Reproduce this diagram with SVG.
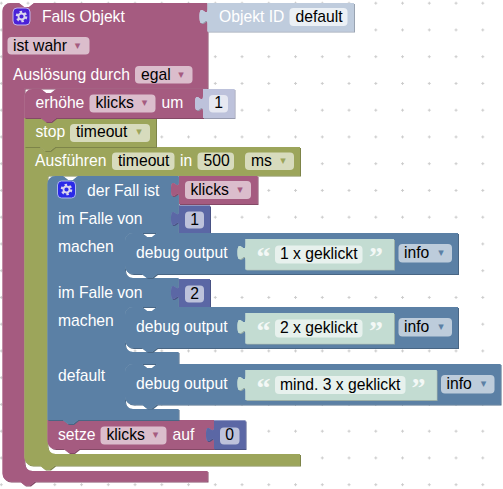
<svg xmlns="http://www.w3.org/2000/svg" width="503" height="489" viewBox="0 0 503 489">
<style>
text{font-family:"Liberation Sans",Arial,sans-serif;font-size:15.7px;white-space:pre}
.l{fill:#fff}
.t{fill:#000}
.c{text-anchor:middle}
.q{font-family:"Liberation Serif",serif;font-weight:bold;font-size:28px;fill:#f3f8f6}
.ar{font-family:"DejaVu Sans",sans-serif;font-size:11px;text-anchor:middle}
.b{filter:url(#edge)}
.pink{fill:#a55b80}.ol{fill:#9ca55b}.bl{fill:#5b80a5}.nu{fill:#5b67a5}.sh{fill:#bdc2db}.ob{fill:#bfccdd}.gr{fill:#c3dcd2}
.fp{fill:#dbbdcc}.fo{fill:#d7dbbd}.fb{fill:#bdccdb}.fn{fill:#bdc2db}.fw{fill:#e6e8f1}.fg{fill:#e7f1ed}.fi{fill:#ebf0f5}
.gear{fill:none;stroke:#d9d5ee}
</style>
<defs>
<pattern id="grid" x="-0.2" y="1.7" width="26.75" height="26.75" patternUnits="userSpaceOnUse">
<path d="M0,1.5H3M1.5,0V3" stroke="#ccc" stroke-width="1" fill="none"/>
</pattern>
<filter id="edge" x="-5%" y="-5%" width="110%" height="110%" color-interpolation-filters="sRGB">
<feOffset in="SourceGraphic" dx="0.8" dy="0.8" result="o1"/>
<feColorMatrix in="o1" type="matrix" values=".8 0 0 0 0 0 .8 0 0 0 0 0 .8 0 0 0 0 0 1 0" result="dark"/>
<feOffset in="SourceGraphic" dx="-0.5" dy="-0.5" result="o2"/>
<feColorMatrix in="o2" type="matrix" values=".7 0 0 0 .3 0 .7 0 0 .3 0 0 .7 0 .3 0 0 0 1 0" result="light"/>
<feMerge><feMergeNode in="dark"/><feMergeNode in="light"/><feMergeNode in="SourceGraphic"/></feMerge>
</filter>
<g id="gearA"><circle r="4.6" class="gear" stroke-width="2.4" stroke-dasharray="2.4 2.42"/><circle r="3" class="gear" stroke-width="1.8"/></g>
</defs>
<rect width="503" height="489" fill="#fff"/>
<rect width="503" height="489" fill="url(#grid)"/>

<g id="connectors"/>

<g id="falls-objekt">
<path class="b pink" d="M2.5,11a8,8 0 0 1 8,-8H19l5,4 5,0 5,-4H207.5V88.5H24.5V463a8,8 0 0 0 8,8H207.5V481.5H35l-5,4 -5,0 -5,-4H10.5a8,8 0 0 1 -8,-8Z"/>
<rect x="13" y="8" width="17" height="17" rx="4" fill="#4a22d8" stroke="#c4b6ea"/>
<use href="#gearA" x="21.5" y="16.5"/>
<text class="l" x="42" y="21.5">Falls Objekt</text>
<rect class="fp" x="7.5" y="37" width="82" height="17.5" rx="4"/>
<text class="t" x="13" y="51">ist wahr</text><text class="ar" x="77.5" y="49" fill="#a55b80">▾</text>
<text class="l" x="13" y="80">Auslösung durch</text>
<rect class="fp" x="135" y="66" width="57.5" height="17.5" rx="4"/>
<text class="t" x="141" y="80">egal</text><text class="ar" x="181" y="78" fill="#a55b80">▾</text>
</g>

<g id="objekt-id">
<path class="b ob" d="M354,3V31.5H207.5V24c0,-10 -8,8 -8,-7.5s8,2.5 8,-7.5V3Z"/>
<text class="l" x="219" y="21.5">Objekt ID</text>
<rect class="fi" x="289.5" y="8" width="58" height="18" rx="4"/>
<text class="t" x="295.5" y="21.5">default</text>
</g>

<g id="ausfuehren">
<path class="b ol" d="M24.5,147H40l5,4 5,0 5,-4H300V175.5H47.5V446a8,8 0 0 0 8,8H300V465.5H55l-5,4 -5,0 -5,-4H32.5a8,8 0 0 1 -8,-8Z"/>
<text class="l" x="35" y="166">Ausführen</text>
<rect class="fo" x="112" y="152.5" width="62.5" height="17.5" rx="4"/>
<text class="t" x="118" y="166">timeout</text>
<text class="l" x="180" y="166">in</text>
<rect class="fo" x="197.5" y="152.5" width="36.5" height="17.5" rx="4"/>
<text class="t" x="203.5" y="166">500</text>
<rect class="fo" x="245" y="152.5" width="49" height="17.5" rx="4"/>
<text class="t" x="251" y="166">ms</text><text class="ar" x="283" y="164" fill="#9ca55b">▾</text>
</g>

<g id="stop">
<path class="b ol" d="M24.5,118H156V147H55l-5,4 -5,0 -5,-4H24.5Z"/>
<text class="l" x="35.5" y="137">stop</text>
<rect class="fo" x="70" y="124" width="80" height="18" rx="4"/>
<text class="t" x="76" y="137">timeout</text><text class="ar" x="139" y="135" fill="#9ca55b">▾</text>
</g>

<g id="erhoehe">
<path class="b pink" d="M24.5,97a8,8 0 0 1 8,-8H41l5,4 5,0 5,-4H203V118H56l-5,4 -5,0 -5,-4H24.5Z"/>
<text class="l" x="35.5" y="108">erhöhe</text>
<rect class="fp" x="89.5" y="94.5" width="66" height="18" rx="4"/>
<text class="t" x="95.5" y="108">klicks</text><text class="ar" x="144.5" y="106" fill="#a55b80">▾</text>
<text class="l" x="161.5" y="108">um</text>
<path class="b sh" d="M234.5,89V118H203V111c0,-10 -8,8 -8,-7.5s8,2.5 8,-7.5V89Z"/>
<rect class="fw" x="209" y="95" width="19" height="17.5" rx="4"/>
<text class="t c" x="218.5" y="108">1</text>
</g>

<g id="setze">
<path class="b pink" d="M47.5,420H63l5,4 5,0 5,-4H214V449H79l-5,4 -5,0 -5,-4H55.5a8,8 0 0 1 -8,-8Z"/>
<text class="l" x="58" y="440">setze</text>
<rect class="fp" x="100.5" y="426.5" width="66" height="18" rx="4"/>
<text class="t" x="106.5" y="440">klicks</text><text class="ar" x="155.5" y="438" fill="#a55b80">▾</text>
<text class="l" x="172.5" y="440">auf</text>
<path class="b nu" d="M245.5,420.5V449H214V442c0,-10 -8,8 -8,-7.5s8,2.5 8,-7.5V420.5Z"/>
<rect class="fn" x="220" y="427.5" width="19.5" height="17" rx="4"/>
<text class="t c" x="229.5" y="440">0</text>
</g>

<g id="der-fall">
<path class="b bl" d="M47.5,184a8,8 0 0 1 8,-8H63l5,4 5,0 5,-4H178.5V233H133a8,8 0 0 0 -8,8V270a8,8 0 0 0 8,8H178.5V307H133a8,8 0 0 0 -8,8V344a8,8 0 0 0 8,8H178.5V364H133a8,8 0 0 0 -8,8V401a8,8 0 0 0 8,8H178.5V420H78l-5,4 -5,0 -5,-4H47.5Z"/>
<rect x="57.5" y="181" width="18" height="17" rx="4" fill="#2a2ae8" stroke="#a9b4ea"/>
<use href="#gearA" x="66.5" y="189.5"/>
<text class="l" x="87" y="195.5">der Fall ist</text>
<text class="l" x="58" y="224">im Falle von</text>
<text class="l" x="58" y="252">machen</text>
<text class="l" x="58" y="298">im Falle von</text>
<text class="l" x="58" y="326">machen</text>
<text class="l" x="58" y="381">default</text>
</g>

<g id="wert-klicks">
<path class="b pink" d="M257.5,176V204H179V197c0,-10 -8,8 -8,-7.5s8,2.5 8,-7.5V176Z"/>
<rect class="fp" x="185" y="181" width="66" height="18" rx="4"/>
<text class="t" x="190.5" y="194.5">klicks</text><text class="ar" x="240" y="192.5" fill="#a55b80">▾</text>
</g>
<g id="wert-1">
<path class="b nu" d="M210,205.5V233H179V226c0,-10 -8,8 -8,-7.5s8,2.5 8,-7.5V205.5Z"/>
<rect class="fn" x="185" y="211.5" width="19" height="17" rx="4"/>
<text class="t c" x="194.5" y="225">1</text>
</g>
<g id="wert-2">
<path class="b nu" d="M210,279V307H179V300c0,-10 -8,8 -8,-7.5s8,2.5 8,-7.5V279Z"/>
<rect class="fn" x="185" y="285.5" width="19" height="17" rx="4"/>
<text class="t c" x="194.5" y="299">2</text>
</g>

<g id="debug-1">
<path class="b bl" d="M125,241a8,8 0 0 1 8,-8H142l5,4 5,0 5,-4H458V274H157l-5,4 -5,0 -5,-4H133a8,8 0 0 1 -8,-8Z"/>
<text class="l" x="136" y="257.5">debug output</text>
<path class="b gr" d="M394,239V269.5H245.5V260c0,-10 -8,8 -8,-7.5s8,2.5 8,-7.5V239Z"/>
<text class="q" x="256.5" y="266">“</text>
<rect class="fg" x="275" y="245.5" width="87.5" height="18" rx="4"/>
<text class="t c" x="318.7" y="258.5">1 x geklickt</text>
<text class="q" x="369" y="266">”</text>
<rect class="fb" x="398.5" y="244" width="53.5" height="18.5" rx="4"/>
<text class="t" x="404" y="258">info</text><text class="ar" x="441" y="255.5" fill="#5b80a5">▾</text>
</g>
<g id="debug-2">
<path class="b bl" d="M125,315a8,8 0 0 1 8,-8H142l5,4 5,0 5,-4H458V348H157l-5,4 -5,0 -5,-4H133a8,8 0 0 1 -8,-8Z"/>
<text class="l" x="136" y="331.5">debug output</text>
<path class="b gr" d="M394,313V343.5H245.5V334c0,-10 -8,8 -8,-7.5s8,2.5 8,-7.5V313Z"/>
<text class="q" x="256.5" y="340">“</text>
<rect class="fg" x="275" y="319.5" width="87.5" height="18" rx="4"/>
<text class="t c" x="318.7" y="332.5">2 x geklickt</text>
<text class="q" x="369" y="340">”</text>
<rect class="fb" x="398.5" y="318" width="53.5" height="18.5" rx="4"/>
<text class="t" x="404" y="332">info</text><text class="ar" x="441" y="329.5" fill="#5b80a5">▾</text>
</g>
<g id="debug-3">
<path class="b bl" d="M125,372a8,8 0 0 1 8,-8H142l5,4 5,0 5,-4H500.5V404.5H157l-5,4 -5,0 -5,-4H133a8,8 0 0 1 -8,-8Z"/>
<text class="l" x="136" y="389">debug output</text>
<path class="b gr" d="M436.5,370V400H245.5V391c0,-10 -8,8 -8,-7.5s8,2.5 8,-7.5V370Z"/>
<text class="q" x="256.5" y="397">“</text>
<rect class="fg" x="275" y="376" width="130.5" height="18" rx="4"/>
<text class="t c" x="340.2" y="389.5">mind. 3 x geklickt</text>
<text class="q" x="411.5" y="397">”</text>
<rect class="fb" x="441" y="375" width="53.5" height="18.5" rx="4"/>
<text class="t" x="446.5" y="388.5">info</text><text class="ar" x="483.5" y="386.5" fill="#5b80a5">▾</text>
</g>
</svg>
